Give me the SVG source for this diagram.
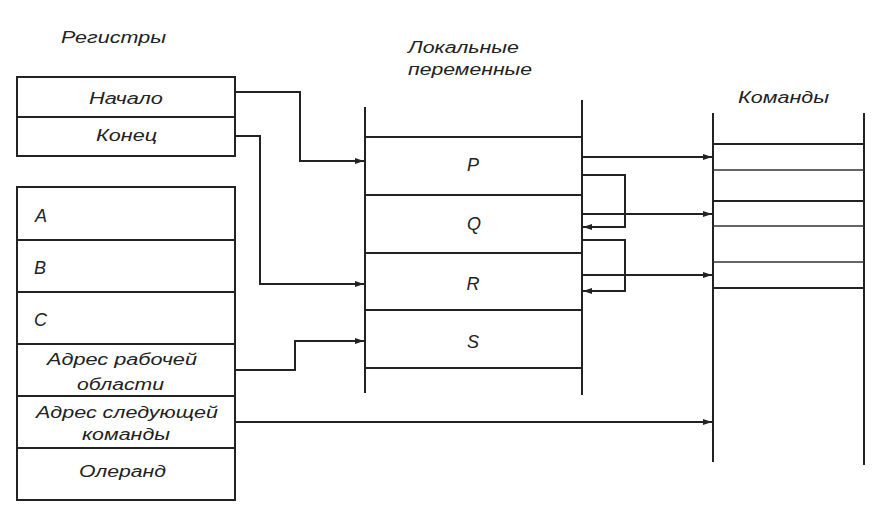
<svg xmlns="http://www.w3.org/2000/svg" width="876" height="520" viewBox="0 0 876 520">
  <style>
    .lbl { font-family: "Liberation Sans", Arial, sans-serif; font-style: italic; font-size: 16px; fill: #222; }
    .big { font-size: 18px; }
    .mid { text-anchor: middle; }
    .box { fill: #fff; stroke: #222; stroke-width: 2; }
    .sep { stroke: #222; stroke-width: 2; }
    .thin { stroke: #333; stroke-width: 1.3; }
    .wire { fill: none; stroke: #222; stroke-width: 2; }
  </style>
  <defs>
    <marker id="arrow" markerUnits="userSpaceOnUse" markerWidth="10" markerHeight="8" refX="9" refY="3" orient="auto">
      <path d="M0,0 L9,3 L0,6 z" fill="#222"/>
    </marker>
  </defs>
  <rect width="876" height="520" fill="#fff"/>

  <!-- Registers -->
  <g id="registers">
    <text class="lbl mid" x="113.5" y="43" textLength="105" lengthAdjust="spacingAndGlyphs">Регистры</text>
    <g id="reg-bounds">
      <rect class="box" x="17" y="77" width="218" height="79"/>
      <line class="sep" x1="17" y1="117" x2="235" y2="117"/>
      <text class="lbl mid" x="126" y="104" textLength="74" lengthAdjust="spacingAndGlyphs">Начало</text>
      <text class="lbl mid" x="126.5" y="141" textLength="61" lengthAdjust="spacingAndGlyphs">Конец</text>
    </g>
    <g id="reg-main">
      <rect class="box" x="17" y="187" width="218" height="313"/>
      <line class="sep" x1="17" y1="240" x2="235" y2="240"/>
      <line class="sep" x1="17" y1="292" x2="235" y2="292"/>
      <line class="sep" x1="17" y1="344" x2="235" y2="344"/>
      <line class="sep" x1="17" y1="396" x2="235" y2="396"/>
      <line class="sep" x1="17" y1="448" x2="235" y2="448"/>
      <text class="lbl big" x="35" y="222">A</text>
      <text class="lbl big" x="34" y="274">B</text>
      <text class="lbl big" x="34" y="326">C</text>
      <text class="lbl mid" x="122" y="365" textLength="150" lengthAdjust="spacingAndGlyphs">Адрес рабочей</text>
      <text class="lbl mid" x="120.5" y="390" textLength="87" lengthAdjust="spacingAndGlyphs">области</text>
      <text class="lbl mid" x="127" y="418" textLength="182" lengthAdjust="spacingAndGlyphs">Адрес следующей</text>
      <text class="lbl mid" x="126" y="440" textLength="88" lengthAdjust="spacingAndGlyphs">команды</text>
      <text class="lbl mid" x="122.5" y="477" textLength="87" lengthAdjust="spacingAndGlyphs">Олеранд</text>
    </g>
  </g>

  <!-- Local variables -->
  <g id="locals">
    <text class="lbl" x="408" y="53" textLength="111" lengthAdjust="spacingAndGlyphs">Локальные</text>
    <text class="lbl" x="408" y="75" textLength="124" lengthAdjust="spacingAndGlyphs">переменные</text>
    <line class="sep" x1="365" y1="107" x2="365" y2="393"/>
    <line class="sep" x1="582" y1="100" x2="582" y2="395"/>
    <line class="sep" x1="365" y1="137" x2="582" y2="137"/>
    <line class="sep" x1="365" y1="195" x2="582" y2="195"/>
    <line class="sep" x1="365" y1="253" x2="582" y2="253"/>
    <line class="sep" x1="365" y1="310" x2="582" y2="310"/>
    <line class="sep" x1="365" y1="368" x2="582" y2="368"/>
    <text class="lbl big mid" x="473" y="171">P</text>
    <text class="lbl big mid" x="474" y="230">Q</text>
    <text class="lbl big mid" x="473" y="290">R</text>
    <text class="lbl big mid" x="473" y="348">S</text>
  </g>

  <!-- Commands -->
  <g id="commands">
    <text class="lbl" x="738" y="103" textLength="91" lengthAdjust="spacingAndGlyphs">Команды</text>
    <line class="sep" x1="713" y1="113" x2="713" y2="462"/>
    <line class="sep" x1="864" y1="113" x2="864" y2="465"/>
    <line class="sep" x1="713" y1="144" x2="864" y2="144"/>
    <line class="thin" x1="713" y1="170" x2="864" y2="170"/>
    <line class="sep" x1="713" y1="201" x2="864" y2="201"/>
    <line class="thin" x1="713" y1="226" x2="864" y2="226"/>
    <line class="thin" x1="713" y1="262" x2="864" y2="262"/>
    <line class="sep" x1="713" y1="288" x2="864" y2="288"/>
  </g>

  <!-- Connectors -->
  <g id="connectors">
    <path class="wire" d="M235,92 H300 V161 H364" marker-end="url(#arrow)"/>
    <path class="wire" d="M235,136 H260 V284 H364" marker-end="url(#arrow)"/>
    <path class="wire" d="M235,370 H295 V341 H364" marker-end="url(#arrow)"/>
    <path class="wire" d="M235,422 H712" marker-end="url(#arrow)"/>
    <path class="wire" d="M583,157 H712" marker-end="url(#arrow)"/>
    <path class="wire" d="M583,175 H625 V227 H583" marker-end="url(#arrow)"/>
    <path class="wire" d="M583,214 H712" marker-end="url(#arrow)"/>
    <path class="wire" d="M583,240 H625 V291 H583" marker-end="url(#arrow)"/>
    <path class="wire" d="M583,275 H712" marker-end="url(#arrow)"/>
  </g>
</svg>
